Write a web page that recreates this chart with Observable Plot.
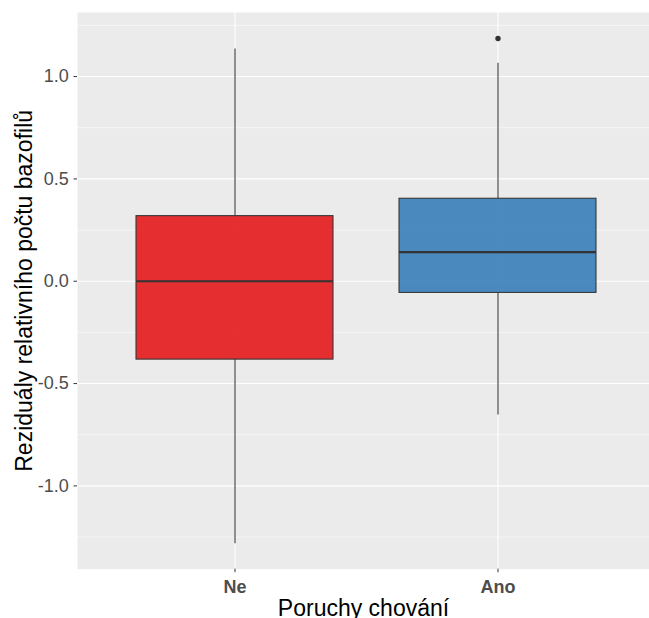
<!DOCTYPE html>
<html>
<head>
<meta charset="utf-8">
<script src="https://cdn.jsdelivr.net/npm/d3@7"></script>
<script src="https://cdn.jsdelivr.net/npm/@observablehq/plot@0.6"></script>
<style>
  html, body { margin: 0; padding: 0; background: white; overflow: hidden; }
  svg { overflow: hidden; }
</style>
</head>
<body>
<div id="chart"></div>
<script>
const categories = ["Ne", "Ano"];
const whiskerLow = [-1.283, -0.653];
const q1 = [-0.383, -0.057];
const median = [0.0, 0.142];
const q3 = [0.318, 0.403];
const whiskerHigh = [1.135, 1.065];
const outlierCats = ["Ano"];
const outlierValues = [1.186];
const fills = ["#E41A1C", "#377EB8"];
const yTicks = [-1.0, -0.5, 0.0, 0.5, 1.0];
const yMinor = [-1.25, -0.75, -0.25, 0.25, 0.75, 1.25];
const xTitle = "Poruchy chování";
const yTitle = "Reziduály relativního počtu bazofilů";

const boxes = categories.map((c, i) => ({
  cat: c, lo: whiskerLow[i], q1: q1[i], med: median[i], q3: q3[i], hi: whiskerHigh[i]
}));
const outliers = outlierCats.map((c, i) => ({cat: c, value: outlierValues[i]}));

const W = 649, H = 618;
const mL = 77, mT = 12, mB = 49.3, mR = 0;

const chart = Plot.plot({
  width: W,
  height: H,
  marginLeft: mL,
  marginTop: mT,
  marginBottom: mB,
  marginRight: mR,
  style: {fontFamily: "'Liberation Sans', Arial, sans-serif", background: "white", overflow: "hidden"},
  x: {type: "band", domain: categories, range: [mL, 656], paddingInner: 0.25, paddingOuter: 0.225, align: 0.5},
  y: {domain: [-1.407, 1.313]},
  color: {domain: categories, range: fills},
  marks: [
    Plot.frame({fill: "#EBEBEB", stroke: "none"}),
    Plot.ruleY(yMinor, {y: d => d, stroke: "white", strokeWidth: 0.55}),
    Plot.ruleY(yTicks, {y: d => d, stroke: "white", strokeWidth: 1.1}),
    Plot.ruleX(categories, {x: d => d, stroke: "white", strokeWidth: 1.1}),
    Plot.ruleX(boxes, {x: "cat", y1: "lo", y2: "q1", stroke: "#333333", strokeWidth: 1.07}),
    Plot.ruleX(boxes, {x: "cat", y1: "q3", y2: "hi", stroke: "#333333", strokeWidth: 1.07}),
    Plot.barY(boxes, {x: "cat", y1: "q1", y2: "q3", fill: "cat", fillOpacity: 0.9, stroke: "#333333", strokeWidth: 1.07}),
    Plot.tickY(boxes, {x: "cat", y: "med", stroke: "#333333", strokeWidth: 2.13}),
    Plot.dot(outliers, {x: "cat", y: "value", r: 2.7, fill: "#333333", stroke: "none"}),
    Plot.axisY({ticks: yTicks, tickSize: 3.5, tickPadding: 5.2, tickFormat: d => d.toFixed(1),
      fontSize: 18, fill: "#4D4D4D", stroke: "#333333", label: null}),
    Plot.axisX({tickSize: 3.5, tickPadding: 7.5, fontSize: 18, fontWeight: "bold",
      fill: "#4D4D4D", stroke: "#333333", label: null}),
    Plot.text([xTitle], {text: d => d, frameAnchor: "bottom", dy: 46.3, lineAnchor: "bottom",
      textAnchor: "middle", fontSize: 23, fill: "black"}),
    Plot.text([yTitle], {text: d => d, frameAnchor: "left", dx: -45.5, rotate: -90, lineAnchor: "bottom",
      textAnchor: "middle", fontSize: 23, fill: "black"})
  ]
});
document.getElementById("chart").appendChild(chart);
</script>
</body>
</html>
